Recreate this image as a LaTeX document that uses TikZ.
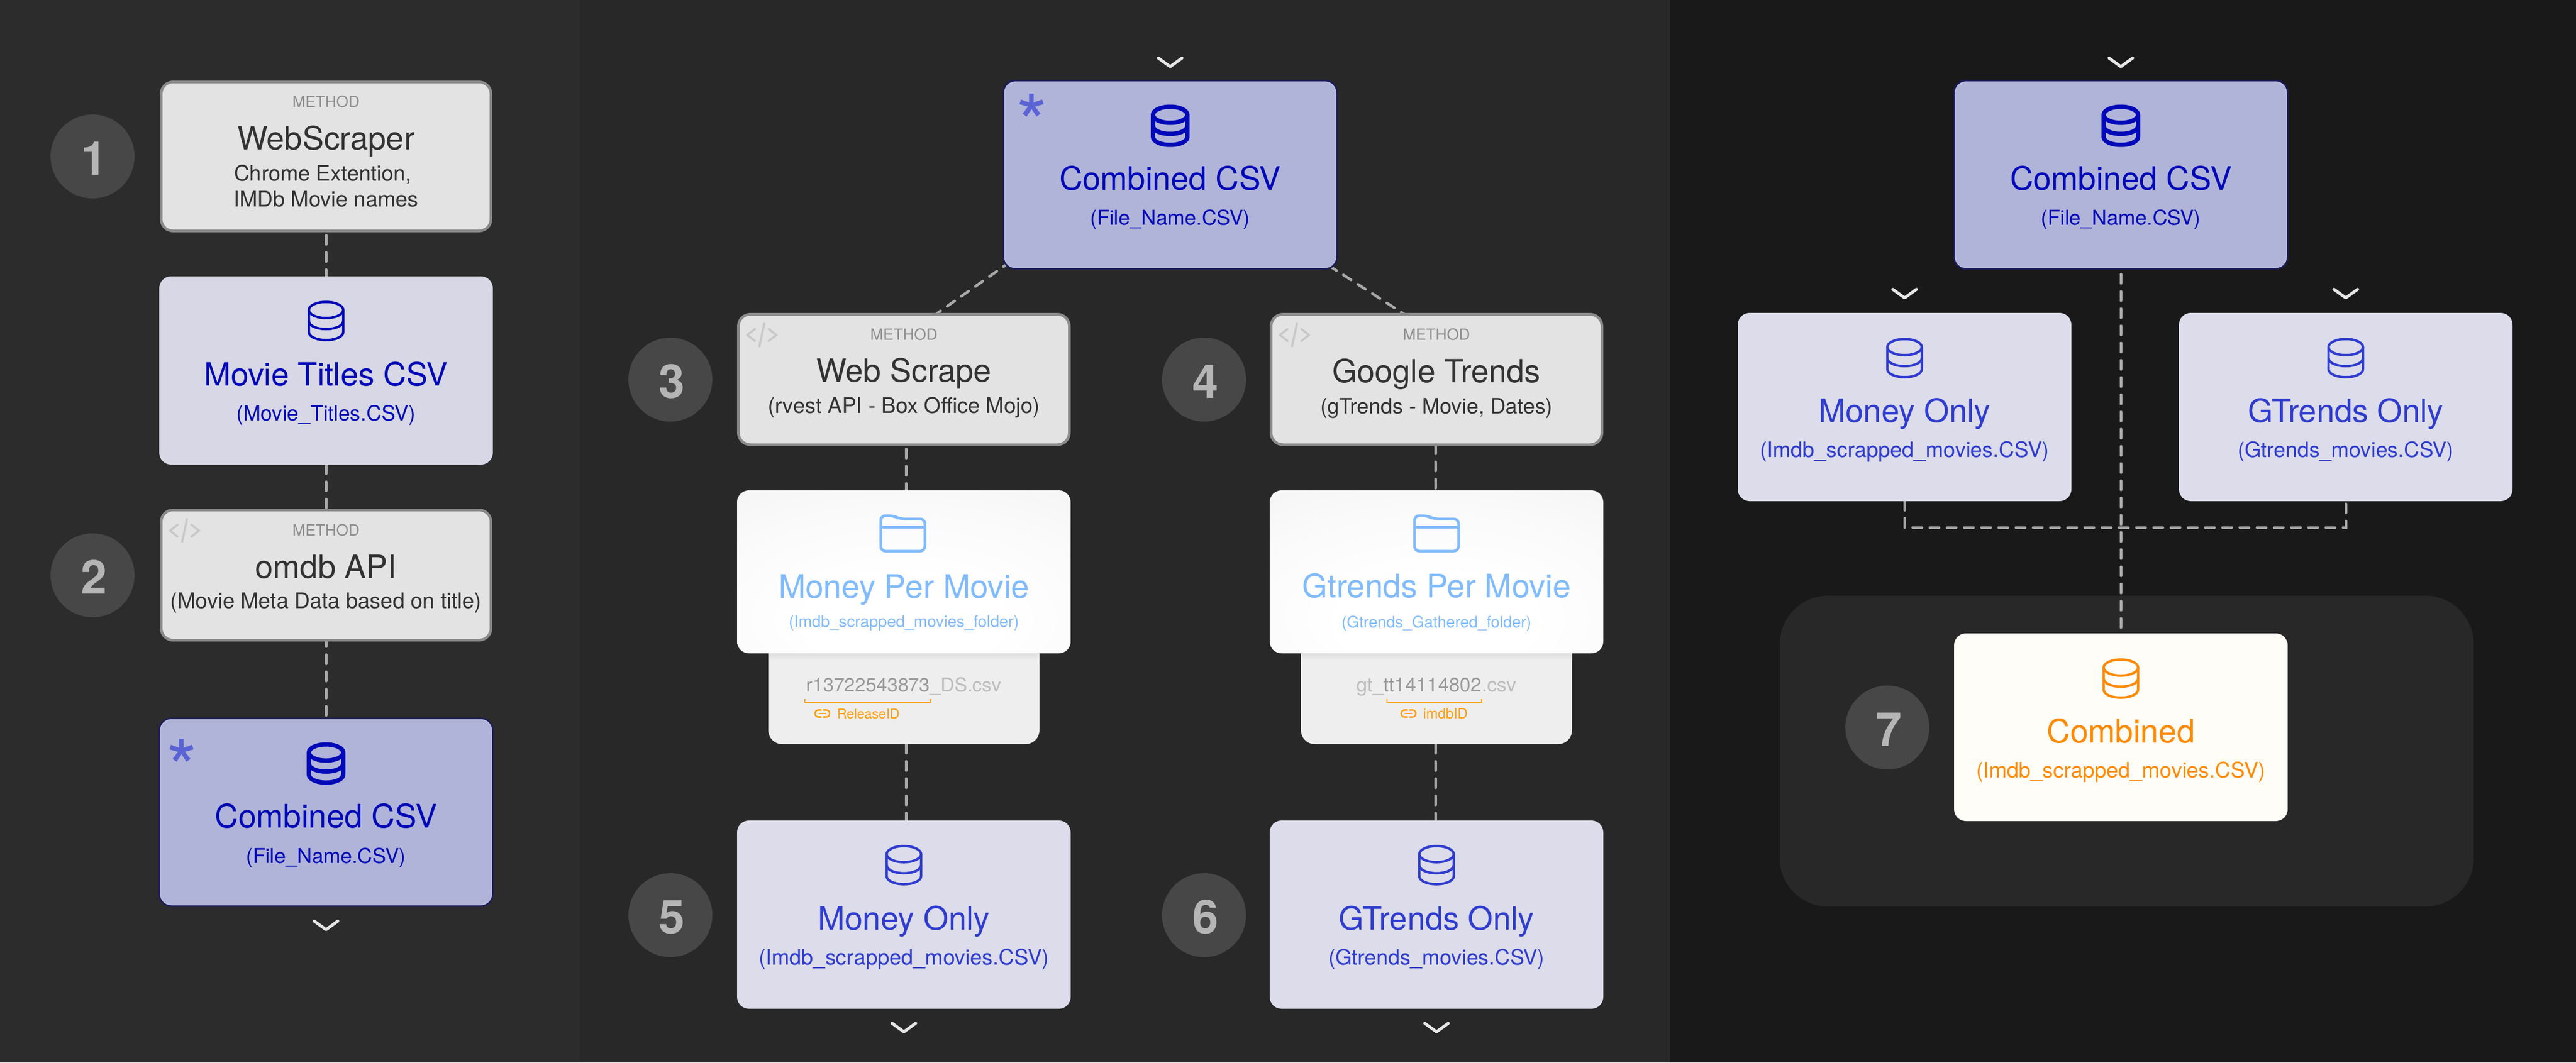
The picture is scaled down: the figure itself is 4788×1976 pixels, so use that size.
\documentclass[tikz,border=0pt]{standalone}
\usepackage{fontspec}
\usepackage{graphicx}
\setmainfont{TeX Gyre Heros}
\usetikzlibrary{calc}
\definecolor{pA}{HTML}{2C2C2C}
\definecolor{pB}{HTML}{282828}
\definecolor{pC}{HTML}{191919}
\definecolor{grayfill}{HTML}{E3E3E3}
\definecolor{grayline}{HTML}{8A8A8A}
\definecolor{inkdark}{HTML}{333333}
\definecolor{inkmethod}{HTML}{8E8E8E}
\definecolor{lightA}{HTML}{D7D7E5}
\definecolor{lightB}{HTML}{DCDCEA}
\definecolor{inkA}{HTML}{0009B8}
\definecolor{inkB}{HTML}{2F3CCF}
\definecolor{starfill}{HTML}{B1B4D9}
\definecolor{starline}{HTML}{1C1C5A}
\definecolor{starglow}{HTML}{B9BBDC}
\definecolor{starmark}{HTML}{5A63D4}
\definecolor{foldink}{HTML}{80BBFF}
\definecolor{backfill}{HTML}{EEEEEE}
\definecolor{idA}{HTML}{9A9A9A}
\definecolor{idB}{HTML}{BDBDBD}
\definecolor{linkink}{HTML}{FF9F0A}
\definecolor{orfill}{HTML}{FFFDF8}
\definecolor{orink}{HTML}{FF8A00}
\definecolor{circfill}{HTML}{474747}
\definecolor{circink}{HTML}{B5B5B5}
\definecolor{connink}{HTML}{A8A8A8}
\definecolor{chevink}{HTML}{E6E6E6}
\definecolor{codeink}{HTML}{C9C9C9}
\pgfdeclareradialshading{foldshade}{\pgfpoint{0bp}{-18bp}}{%
  color(0bp)=(white);
  color(14bp)=(white);
  color(32bp)=(white!98!black);
  color(50bp)=(white!95!black);
  color(70bp)=(white!94!black);
  color(100bp)=(white!93!black)}
\pgfdeclarelayer{panel}
\pgfdeclarelayer{conn}
\pgfsetlayers{panel,conn,main}
\tikzset{
  boxbase/.style={rectangle,rounded corners=22pt,inner sep=0pt,outer sep=0pt},
  graybox/.style={boxbase,fill=grayfill,draw=grayline,line width=5pt},
  lightbox/.style={boxbase,fill=lightA},
  lightboxb/.style={boxbase,fill=lightB},
  starbox/.style={boxbase,fill=starfill,draw=starline,line width=3pt},
  folderbox/.style={boxbase,shading=foldshade},
  backbox/.style={boxbase,fill=backfill,rounded corners=26pt},
  orbox/.style={boxbase,fill=orfill},
  groupbox/.style={boxbase,fill=pB,rounded corners=90pt},
  conn/.style={draw=connink,line width=5pt,line cap=round,dash pattern=on 17pt off 15pt},
  chev/.style={draw=chevink,line width=5.5pt,line cap=round,line join=round},
  badge/.style={circle,fill=circfill,minimum size=156pt,inner sep=0pt},
  digit/.style={anchor=base,inner sep=0pt,text=circink,font=\fontsize{87}{90}\selectfont\bfseries},
  lab/.style={anchor=base,inner sep=0pt,outer sep=0pt},
  stardeco/.style={anchor=base,inner sep=0pt,text=starmark,font=\fontsize{148}{150}\selectfont}
}
% box by its corners
\newcommand\bx[6]{%
  \pgfmathsetmacro\bxw{#5-#3}\pgfmathsetmacro\bxh{#6-#4}%
  \node[#2,minimum width=\bxw pt,minimum height=\bxh pt] (#1) at ({(#3+#5)/2},{(#4+#6)/2}) {};}
% label of exact width on a baseline
\newcommand\lbl[6]{\node[lab,text=#5] (#1) at (#2,#3) {\resizebox{#4pt}{!}{\fontsize{40}{48}\selectfont #6}};}
\newcommand\dbicon[4]{%
  \begin{scope}[shift={(#1,#2)},draw=#3,line width=#4,line cap=round,line join=round]
    \draw (0,-20.5) ellipse [x radius=32,y radius=15];
    \draw (-32,-20.5) -- (-32,20.5) .. controls (-32,29) and (-18,35.5) .. (0,35.5) .. controls (18,35.5) and (32,29) .. (32,20.5) -- (32,-20.5);
    \draw (-32,0) .. controls (-32,8.5) and (-18,15) .. (0,15) .. controls (18,15) and (32,8.5) .. (32,0);
  \end{scope}}
\newcommand\codeicon[2]{%
  \begin{scope}[shift={(#1,#2)},draw=codeink,line width=4pt,line cap=round,line join=round]
    \draw (-13,-11) -- (-27,0) -- (-13,11);
    \draw (4.5,-21) -- (-4.5,21);
    \draw (13,-11) -- (27,0) -- (13,11);
  \end{scope}}
\newcommand\foldericon[2]{%
  \begin{scope}[shift={(#1,#2)},draw=foldink,line width=5pt,line cap=round,line join=round]
    \draw[rounded corners=9pt] (-41,33) -- (-41,-33) -- (-17,-33) -- (-7,-27) -- (41,-27) -- (41,33) -- cycle;
    \draw (-41,-12) -- (41,-12);
  \end{scope}}
\newcommand\linkicon[2]{%
  \begin{scope}[shift={(#1,#2)},draw=linkink,line width=2.6pt,line cap=round]
    \draw[rounded corners=6pt] (-2,-6.5) -- (-13.5,-6.5) -- (-13.5,6.5) -- (-2,6.5);
    \draw[rounded corners=6pt] (2,-6.5) -- (13.5,-6.5) -- (13.5,6.5) -- (2,6.5);
    \draw (-6,0) -- (6,0);
  \end{scope}}
\newcommand\chevron[2]{\draw[chev] ($(#1,#2)+(-22,-8)$) -- (#1,#2+8) -- ($(#1,#2)+(22,-8)$);}
\newcommand\starglow[4]{\draw[starglow,line width=2pt,rounded corners=20pt] (#1+2.5,#2+2.5) rectangle (#3-2.5,#4-2.5);}
\begin{document}
\begin{tikzpicture}[x=1pt,y=-1pt]
\useasboundingbox (0,0) rectangle (4788,1976);
\begin{pgfonlayer}{panel}
  \fill[pA] (0,0) rectangle (1078,1976);
  \fill[pB] (1078,0) rectangle (3104,1976);
  \fill[pC] (3104,0) rectangle (4788,1976);
  \bx{grp}{groupbox}{3308}{1108}{4598}{1686}
\end{pgfonlayer}

% ---------- left column
\bx{ws}{graybox}{299.5}{152.5}{912.5}{429.5}
\bx{mt}{lightbox}{296}{514}{916}{864}
\bx{om}{graybox}{299.5}{948.5}{912.5}{1190.5}
\bx{cl}{starbox}{296}{1336}{916}{1685}
\starglow{296}{1336}{916}{1685}
\node[badge] (b1) at (172,291) {};
\node[badge] (b2) at (172,1070) {};
\node[digit] (d1) at (175,325) {1};
\node[digit] (d2) at (175,1104) {2};
\lbl{ws1}{606}{199}{125}{inkmethod}{METHOD}
\lbl{ws2}{606}{278}{330}{inkdark}{WebScraper}
\lbl{ws3}{600}{336}{330}{inkdark}{Chrome Extention,}
\lbl{ws4}{606}{384}{344}{inkdark}{IMDb Movie names}
\dbicon{606}{597}{inkA}{4.5pt}
\lbl{mt1}{606}{717}{453}{inkA}{Movie Titles CSV}
\lbl{mt2}{606}{782}{333}{inkA}{(Movie\_Titles.CSV)}
\codeicon{343}{987}
\lbl{om1}{606}{996}{125}{inkmethod}{METHOD}
\lbl{om2}{606}{1075}{263}{inkdark}{omdb API}
\lbl{om3}{606}{1131}{578}{inkdark}{(Movie Meta Data based on title)}
\node[stardeco] (s1) at (338,1482) {*};
\dbicon{606}{1420}{inkA}{8pt}
\lbl{cl1}{606}{1539}{413}{inkA}{Combined CSV}
\lbl{cl2}{606}{1605}{297}{inkA}{(File\_Name.CSV)}
\chevron{606}{1721}

% ---------- middle column
\bx{cm}{starbox}{1865}{150}{2485}{500}
\starglow{1865}{150}{2485}{500}
\node[stardeco] (s2) at (1918,282) {*};
\dbicon{2175}{234}{inkA}{8pt}
\lbl{cm1}{2175}{353}{412}{inkA}{Combined CSV}
\lbl{cm2}{2175}{418}{297}{inkA}{(File\_Name.CSV)}
\chevron{2175}{116}

\bx{wb}{graybox}{1372.5}{584.5}{1987.5}{827}
\bx{gg}{graybox}{2362.5}{584.5}{2977.5}{827}
\codeicon{1416}{623}
\codeicon{2406}{623}
\node[badge] (b3) at (1246,706) {};
\node[badge] (b4) at (2238,706) {};
\node[digit] (d3) at (1249,740) {3};
\node[digit] (d4) at (2241,740) {4};
\lbl{wb1}{1680}{632}{125}{inkmethod}{METHOD}
\lbl{wb2}{1680}{710}{326}{inkdark}{Web Scrape}
\lbl{wb3}{1680}{768}{506}{inkdark}{(rvest API - Box Office Mojo)}
\lbl{gg1}{2670}{632}{125}{inkmethod}{METHOD}
\lbl{gg2}{2670}{711}{387}{inkdark}{Google Trends}
\lbl{gg3}{2670}{769}{432}{inkdark}{(gTrends - Movie, Dates)}

\bx{kb}{backbox}{1428}{1150}{1932}{1384}
\bx{tb}{backbox}{2418}{1150}{2922}{1384}
\shade[top color=black!13,bottom color=backfill] (1428,1215) rectangle (1932,1228);
\shade[top color=black!13,bottom color=backfill] (2418,1215) rectangle (2922,1228);
\bx{kf}{folderbox}{1370}{912}{1990}{1215}
\bx{tf}{folderbox}{2360}{912}{2980}{1215}
\foldericon{1678}{992}
\foldericon{2670}{992}
\lbl{kf1}{1680}{1112}{466}{foldink}{Money Per Movie}
\lbl{kf2}{1680}{1166}{428}{foldink}{(Imdb\_scrapped\_movies\_folder)}
\lbl{tf1}{2670}{1111}{499}{foldink}{Gtrends Per Movie}
\lbl{tf2}{2670}{1167}{353}{foldink}{(Gtrends\_Gathered\_folder)}

\lbl{kb1}{1680}{1286}{363}{idB}{\textcolor{idA}{r13722543873}\_DS.csv}
\draw[linkink,line width=2.5pt] (1496,1300) -- (1496,1306) -- (1729,1306) -- (1729,1300);
\linkicon{1528.5}{1327}
\lbl{kb2}{1614}{1336}{116}{linkink}{ReleaseID}
\lbl{tb1}{2670}{1286}{298}{idB}{gt\_\textcolor{idA}{tt14114802}.csv}
\draw[linkink,line width=2.5pt] (2578,1300) -- (2578,1306) -- (2754,1306) -- (2754,1300);
\linkicon{2618}{1327}
\lbl{tb2}{2686.5}{1336}{83}{linkink}{imdbID}

\bx{kc}{lightboxb}{1370}{1526}{1990}{1876}
\bx{tc}{lightboxb}{2360}{1526}{2980}{1876}
\node[badge] (b5) at (1246,1702) {};
\node[badge] (b6) at (2238,1702) {};
\node[digit] (d5) at (1249,1736) {5};
\node[digit] (d6) at (2241,1736) {6};
\dbicon{1680}{1609}{inkB}{4.5pt}
\dbicon{2670}{1609}{inkB}{4.5pt}
\lbl{kc1}{1680}{1729}{319}{inkB}{Money Only}
\lbl{kc2}{1680}{1794}{540}{inkB}{(Imdb\_scrapped\_movies.CSV)}
\lbl{tc1}{2670}{1729}{363}{inkB}{GTrends Only}
\lbl{tc2}{2670}{1794}{402}{inkB}{(Gtrends\_movies.CSV)}
\chevron{1680}{1911}
\chevron{2670}{1911}

% ---------- right column
\bx{rc}{starbox}{3632}{150}{4252}{500}
\starglow{3632}{150}{4252}{500}
\dbicon{3942}{234}{inkA}{8pt}
\lbl{rc1}{3942}{353}{412}{inkA}{Combined CSV}
\lbl{rc2}{3942}{418}{297}{inkA}{(File\_Name.CSV)}
\chevron{3942}{116}
\bx{ra}{lightboxb}{3230}{582}{3850}{932}
\bx{rb}{lightboxb}{4050}{582}{4670}{932}
\dbicon{3540}{666}{inkB}{4.5pt}
\dbicon{4360}{666}{inkB}{4.5pt}
\lbl{ra1}{3540}{785}{319}{inkB}{Money Only}
\lbl{ra2}{3540}{850}{538}{inkB}{(Imdb\_scrapped\_movies.CSV)}
\lbl{rb1}{4360}{785}{363}{inkB}{GTrends Only}
\lbl{rb2}{4360}{850}{402}{inkB}{(Gtrends\_movies.CSV)}
\chevron{3540}{546}
\chevron{4360}{546}
\bx{ro}{orbox}{3632}{1178}{4252}{1527}
\node[badge] (b7) at (3508,1353) {};
\node[digit] (d7) at (3511,1387) {7};
\dbicon{3942}{1262}{orink}{4.5pt}
\lbl{ro1}{3942}{1381}{275}{orink}{Combined}
\lbl{ro2}{3942}{1446}{538}{orink}{(Imdb\_scrapped\_movies.CSV)}

\begin{pgfonlayer}{conn}
  \draw[conn] ($(ws.south)+(0,8)$) -- (mt.north);
  \draw[conn] (mt.south) -- (om.north);
  \draw[conn] ($(om.south)+(0,-5)$) -- (cl.north);
  \draw[conn] ($(cm.south west)+(14,-14)$) -- ($(wb.north)+(55,3)$);
  \draw[conn] ($(cm.south east)+(-15,-6)$) -- ($(gg.north)+(-55,3)$);
  \draw[conn] ($(wb.south)+(4,8)$) -- ($(kf.north)+(4,0)$);
  \draw[conn] ($(gg.south)+(-2,0)$) -- ($(tf.north)+(-2,0)$);
  \draw[conn] ($(kb.south)+(4,0)$) -- ($(kc.north)+(4,0)$);
  \draw[conn] ($(tb.south)+(-2,0)$) -- ($(tc.north)+(-2,0)$);
  \draw[conn] ($(rc.south)+(0,10)$) -- ($(ro.north)+(0,-8)$);
  \draw[conn] (ra.south) -- ++(0,49) -| (rb.south);
\end{pgfonlayer}
\end{tikzpicture}
\end{document}
